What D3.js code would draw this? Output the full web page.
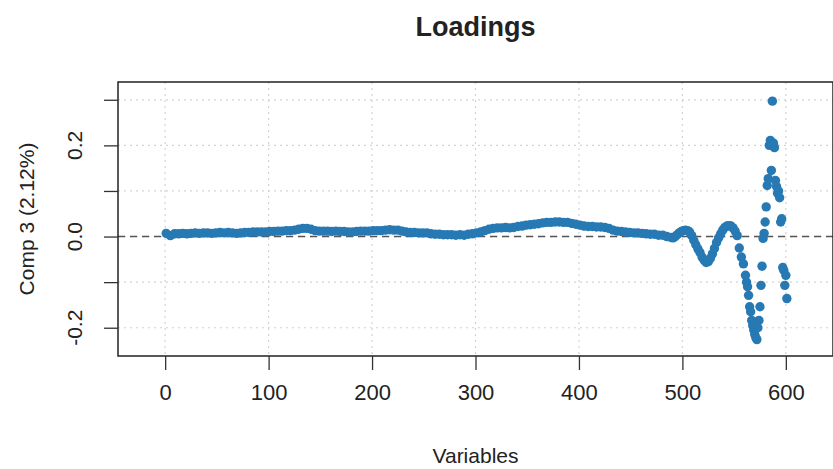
<!DOCTYPE html>
<html>
<head>
<meta charset="utf-8">
<script src="https://cdn.jsdelivr.net/npm/d3@7"></script>
<style>
  body { margin: 0; background: #fff; }
  svg text { font-family: "Liberation Sans", Arial, sans-serif; fill: #222; }
</style>
</head>
<body>
<svg id="chart" width="833" height="469"></svg>
<script>
// variable index (x) and loading on component 3 (y)
var varIndex = [
  1,5,9,13,17,21,25,29,33,37,41,45,49,53,57,61,65,69,73,77,81,85,89,93,97,
  101,105,109,113,117,121,125,129,133,137,141,145,149,153,157,161,165,169,173,177,181,185,189,193,197,
  201,205,209,213,217,221,225,229,233,237,241,245,249,253,257,261,265,269,273,277,281,285,289,293,297,
  301,305,309,313,317,321,325,329,333,337,341,345,349,353,357,361,365,369,373,377,381,385,389,393,397,
  401,405,409,413,417,421,425,429,433,437,441,445,449,453,457,461,465,469,473,477,481,485,489,
  491,493,495,497,499,501,503,505,507,509,511,513,515,517,519,521,523,525,527,529,531,533,535,537,539,
  541,543,545,547,549,551,553,555,557,559,561,
  562,563,564,565,566,567,568,569,570,571,572,573,574,575,576,577,578,579,580,
  581,582,583,584,585,586,587,588,589,590,591,592,593,594,595,596,597,598,599,600,601
];
var loading = [
  0.007,0.002,0.006,0.006,0.007,0.006,0.007,0.008,0.007,0.008,0.008,0.007,0.008,0.009,0.008,0.009,0.008,0.007,0.008,0.009,0.009,0.010,0.010,0.010,0.010,
  0.011,0.011,0.012,0.012,0.013,0.013,0.014,0.016,0.018,0.018,0.016,0.013,0.012,0.012,0.012,0.011,0.012,0.011,0.011,0.010,0.010,0.011,0.012,0.012,0.012,
  0.013,0.013,0.013,0.014,0.015,0.014,0.014,0.012,0.010,0.009,0.009,0.008,0.008,0.008,0.006,0.005,0.005,0.004,0.004,0.004,0.003,0.004,0.003,0.005,0.006,
  0.008,0.010,0.013,0.016,0.018,0.019,0.019,0.020,0.019,0.020,0.022,0.023,0.025,0.026,0.027,0.028,0.030,0.031,0.031,0.032,0.032,0.031,0.031,0.029,0.027,
  0.025,0.023,0.022,0.022,0.021,0.021,0.020,0.018,0.014,0.012,0.011,0.010,0.009,0.008,0.008,0.007,0.006,0.005,0.005,0.003,0.003,0.000,-0.002,
  -0.003,0.000,0.004,0.008,0.011,0.013,0.014,0.013,0.010,0.002,-0.008,-0.018,-0.027,-0.035,-0.045,-0.052,-0.057,-0.055,-0.048,-0.038,-0.026,-0.013,-0.003,0.006,0.014,
  0.020,0.023,0.024,0.023,0.019,0.012,0.002,-0.025,-0.045,-0.060,-0.085,
  -0.100,-0.110,-0.129,-0.154,-0.165,-0.184,-0.195,-0.205,-0.215,-0.222,-0.226,-0.200,-0.184,-0.154,-0.107,-0.065,-0.004,0.007,0.032,
  0.065,0.112,0.127,0.200,0.211,0.145,0.297,0.205,0.195,0.123,0.110,0.095,0.100,0.085,0.032,0.039,-0.068,-0.074,-0.107,-0.085,-0.136
];
var xTicks = [0, 100, 200, 300, 400, 500, 600];
var yTicks = [-0.2, -0.1, 0, 0.1, 0.2, 0.3];
var yLabelTicks = [-0.2, 0, 0.2];

var svg = d3.select("#chart");
var plotLeft = 118, plotRight = 833, plotTop = 82, plotBottom = 356;

var x = d3.scaleLinear().domain([-45.6, 645.6]).range([plotLeft, plotRight]);
var y = d3.scaleLinear().domain([-0.262, 0.339]).range([plotBottom, plotTop]);

// grid
svg.append("g").selectAll("line").data(xTicks).enter().append("line")
  .attr("x1", d => x(d)).attr("x2", d => x(d))
  .attr("y1", plotTop).attr("y2", plotBottom)
  .attr("stroke", "#d3d3d3").attr("stroke-width", 1.2).attr("stroke-dasharray", "2,4");
svg.append("g").selectAll("line").data(yTicks).enter().append("line")
  .attr("x1", plotLeft).attr("x2", plotRight)
  .attr("y1", d => y(d)).attr("y2", d => y(d))
  .attr("stroke", "#d3d3d3").attr("stroke-width", 1.2).attr("stroke-dasharray", "2,4");

// zero line
svg.append("line")
  .attr("x1", plotLeft).attr("x2", plotRight)
  .attr("y1", y(0)).attr("y2", y(0))
  .attr("stroke", "#555").attr("stroke-width", 1.5).attr("stroke-dasharray", "7,5");

// points
svg.append("g").selectAll("circle").data(varIndex).enter().append("circle")
  .attr("cx", d => x(d))
  .attr("cy", (d, i) => y(loading[i]))
  .attr("r", 4.7)
  .attr("fill", "#2779b4");

// box
svg.append("rect")
  .attr("x", plotLeft).attr("y", plotTop)
  .attr("width", plotRight - plotLeft).attr("height", plotBottom - plotTop)
  .attr("fill", "none").attr("stroke", "#222").attr("stroke-width", 1.5);

// axes
var xAxis = svg.append("g").attr("transform", "translate(0," + plotBottom + ")")
  .call(d3.axisBottom(x).tickValues(xTicks).tickSize(14).tickPadding(14).tickFormat(d3.format("d")));
xAxis.select(".domain").remove();

var yAxis = svg.append("g").attr("transform", "translate(" + plotLeft + ",0)")
  .call(d3.axisLeft(y).tickValues(yTicks).tickSize(14).tickFormat(""));
yAxis.select(".domain").remove();

svg.selectAll(".tick line").attr("stroke", "#333").attr("stroke-width", 1.3);
xAxis.selectAll("text").attr("font-size", 22).attr("fill", "#222")
  .attr("font-family", "Liberation Sans, Arial, sans-serif");

svg.append("g").selectAll("text").data(yLabelTicks).enter().append("text")
  .attr("transform", d => "translate(82," + y(d) + ") rotate(-90)")
  .attr("text-anchor", "middle")
  .attr("font-size", 21)
  .text(d => d3.format(".1f")(d).replace("−", "-"));

// titles
svg.append("text")
  .attr("x", (plotLeft + plotRight) / 2).attr("y", 36)
  .attr("text-anchor", "middle")
  .attr("font-size", 27).attr("font-weight", "bold")
  .text("Loadings");

svg.append("text")
  .attr("x", (plotLeft + plotRight) / 2).attr("y", 463)
  .attr("text-anchor", "middle")
  .attr("font-size", 21)
  .text("Variables");

svg.append("text")
  .attr("transform", "translate(34," + (plotTop + plotBottom) / 2 + ") rotate(-90)")
  .attr("text-anchor", "middle")
  .attr("font-size", 21)
  .text("Comp 3 (2.12%)");
</script>
</body>
</html>
